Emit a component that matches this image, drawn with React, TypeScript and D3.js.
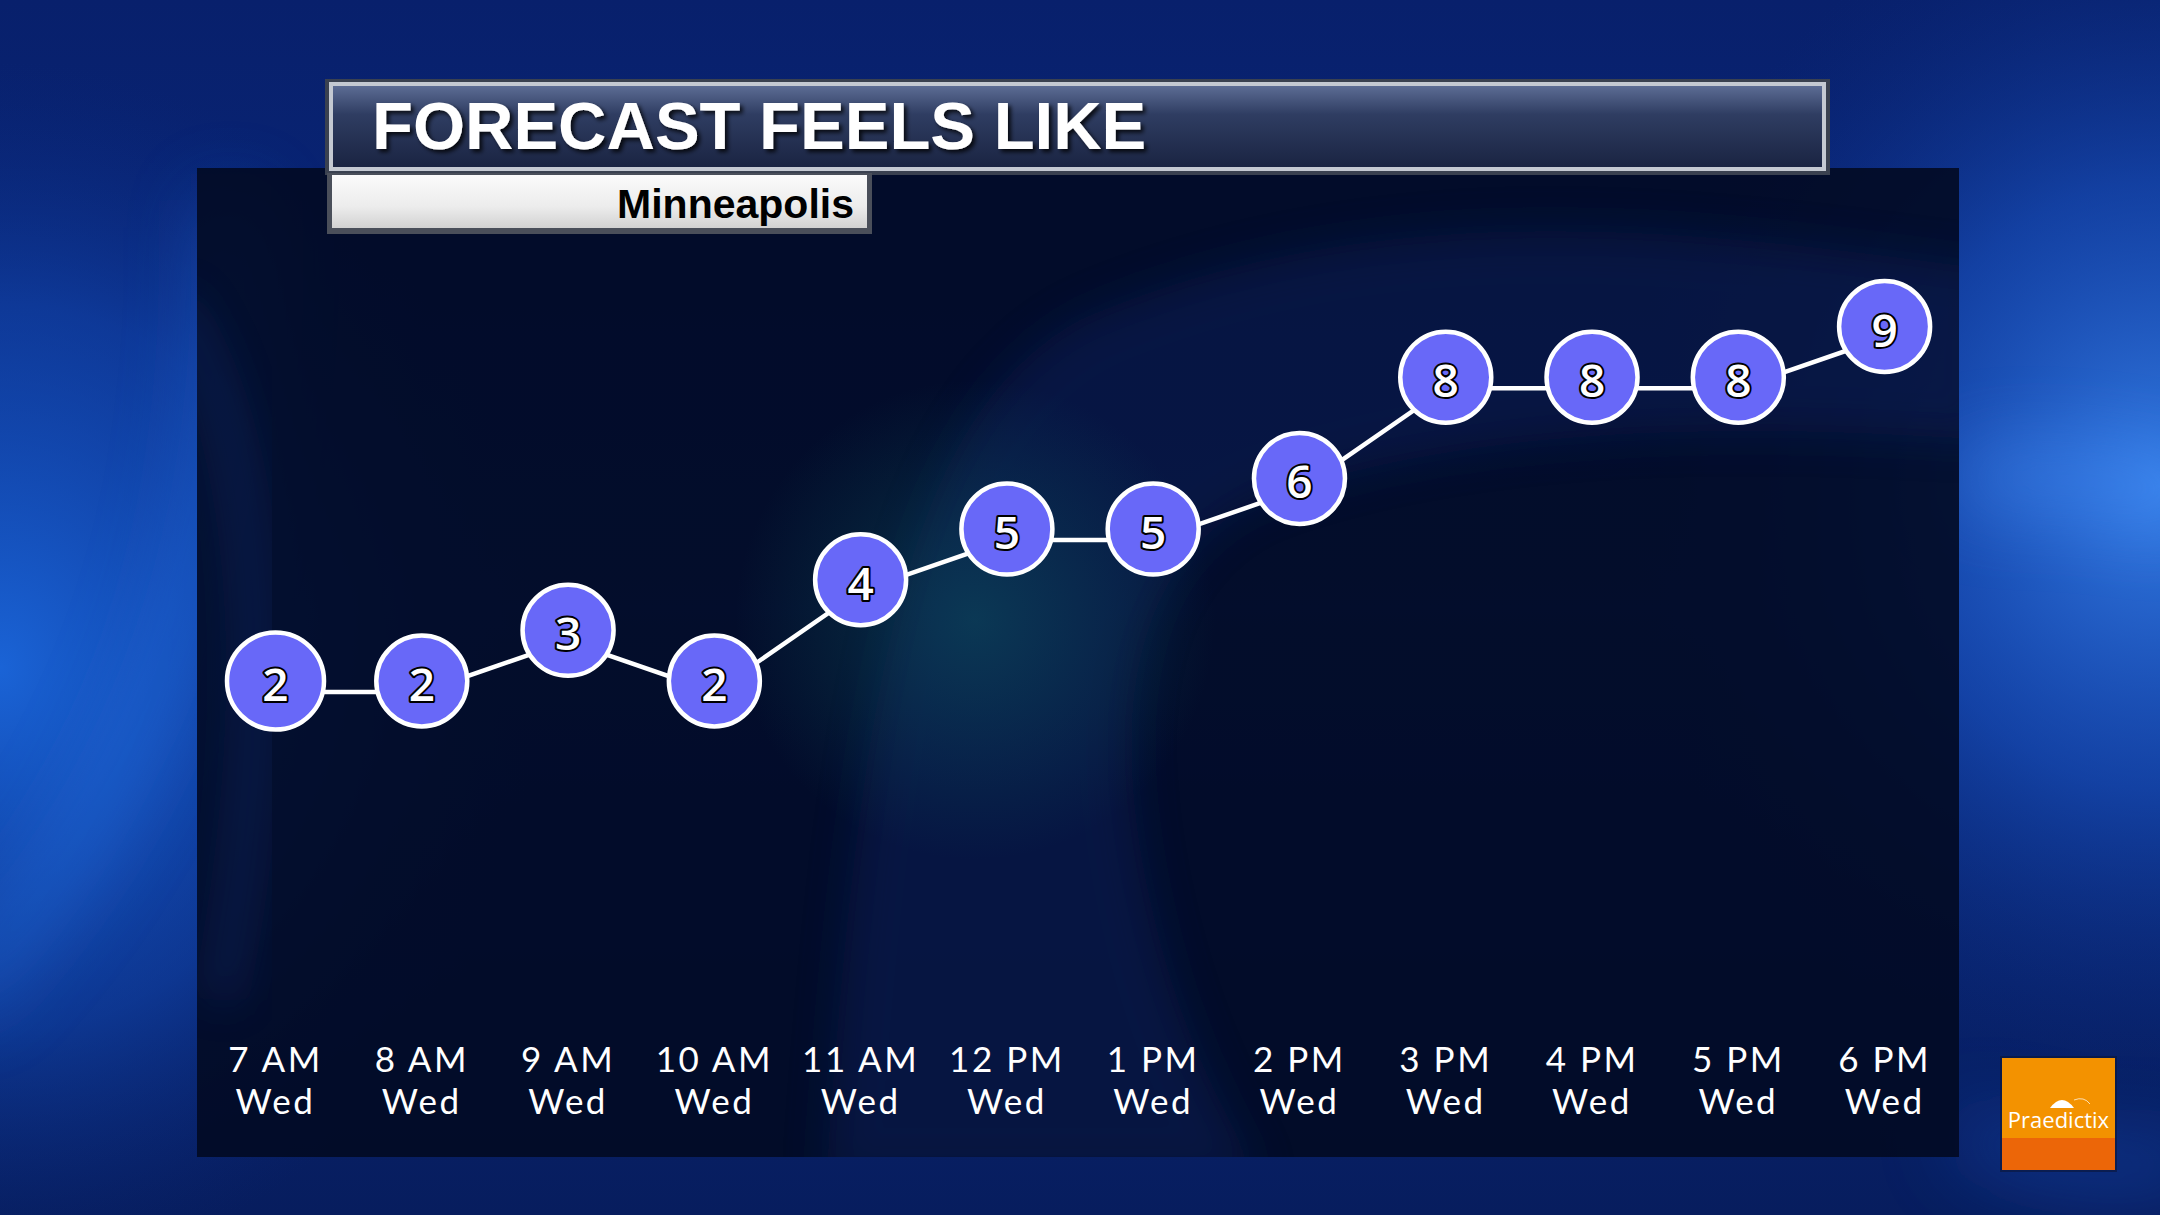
import React from "react";
import * as d3 from "d3";

const hours = ["7 AM", "8 AM", "9 AM", "10 AM", "11 AM", "12 PM", "1 PM", "2 PM", "3 PM", "4 PM", "5 PM", "6 PM"];
const days = ["Wed", "Wed", "Wed", "Wed", "Wed", "Wed", "Wed", "Wed", "Wed", "Wed", "Wed", "Wed"];
const feelsLike = [2, 2, 3, 2, 4, 5, 5, 6, 8, 8, 8, 9];
const titleText = "FORECAST FEELS LIKE";
const subtitleText = "Minneapolis";
const brandText = "Praedictix";

const W = 2160;
const H = 1215;

export default function App() {
  const x = d3.scalePoint<string>().domain(hours).range([275.5, 1884.6]).padding(0);
  const y = d3.scaleLinear().domain([2, 9]).range([681, 326.5]);
  const lineOffset = 11;
  const pts = feelsLike.map((v, i) => ({ v, h: hours[i], d: days[i], x: x(hours[i]) as number, y: y(v) }));
  const line = d3
    .line<{ x: number; y: number }>()
    .x((d) => d.x)
    .y((d) => d.y + lineOffset);

  return (
    <div style={{ position: "fixed", left: 0, top: 0, width: W, height: H, overflow: "hidden" }}>
      <svg width={W} height={H} viewBox={`0 0 ${W} ${H}`} style={{ display: "block" }}>
        <defs>
          <linearGradient id="bgBase" x1="0" y1="0" x2="0" y2="1">
            <stop offset="0" stopColor="#08206c" />
            <stop offset="0.5" stopColor="#0a2a80" />
            <stop offset="1" stopColor="#071d5e" />
          </linearGradient>
          <radialGradient id="leftGlow" cx="0" cy="0.55" r="0.5" gradientTransform="scale(0.5,1)">
            <stop offset="0" stopColor="#1c6ae0" stopOpacity="0.9" />
            <stop offset="0.6" stopColor="#1450c0" stopOpacity="0.45" />
            <stop offset="1" stopColor="#0a2a80" stopOpacity="0" />
          </radialGradient>
          <radialGradient id="rightGlow" cx="1" cy="0.4" r="0.5" gradientTransform="translate(0.5,0) scale(0.5,1)">
            <stop offset="0" stopColor="#3a86f0" stopOpacity="0.9" />
            <stop offset="0.5" stopColor="#1d5cd0" stopOpacity="0.5" />
            <stop offset="1" stopColor="#0a2a80" stopOpacity="0" />
          </radialGradient>
          <radialGradient id="tealGlow" cx="0.5" cy="0.5" r="0.5">
            <stop offset="0" stopColor="#0e5a66" stopOpacity="0.5" />
            <stop offset="1" stopColor="#0e5a66" stopOpacity="0" />
          </radialGradient>
          <linearGradient id="titleFill" x1="0" y1="0" x2="0" y2="1">
            <stop offset="0" stopColor="#5c6c94" />
            <stop offset="0.35" stopColor="#2f3d62" />
            <stop offset="1" stopColor="#1a2442" />
          </linearGradient>
          <linearGradient id="subFill" x1="0" y1="0" x2="0" y2="1">
            <stop offset="0" stopColor="#fbfbfb" />
            <stop offset="0.6" stopColor="#ececec" />
            <stop offset="1" stopColor="#d2d2d2" />
          </linearGradient>
          <filter id="shadow" x="-5%" y="-20%" width="110%" height="140%">
            <feDropShadow dx="3" dy="3" stdDeviation="2" floodColor="#000" floodOpacity="0.8" />
          </filter>
          <filter id="blur40" x="-50%" y="-50%" width="200%" height="200%">
            <feGaussianBlur stdDeviation="40" />
          </filter>
          <filter id="blur20" x="-20%" y="-20%" width="140%" height="140%">
            <feGaussianBlur stdDeviation="22" />
          </filter>
          <clipPath id="panelClip">
            <rect x={197} y={168} width={1762} height={989} />
          </clipPath>
        </defs>

        {/* background */}
        <rect x={0} y={0} width={W} height={H} fill="url(#bgBase)" />
        <rect x={0} y={0} width={W} height={H} fill="url(#leftGlow)" />
        <rect x={0} y={0} width={W} height={H} fill="url(#rightGlow)" />
        <g filter="url(#blur40)" opacity={0.55}>
          <path d="M -50 1000 Q 250 700 230 200" stroke="#2a7af0" strokeWidth={40} fill="none" />
          <path d="M 1960 480 Q 2080 470 2200 500" stroke="#4a94ff" strokeWidth={50} fill="none" />
          <path d="M 1960 1130 Q 2080 1180 2200 1160" stroke="#1e5ad0" strokeWidth={40} fill="none" />
        </g>

        {/* chart panel */}
        <rect x={197} y={168} width={1762} height={989} fill="#020a22" opacity={0.9} />
        <g clipPath="url(#panelClip)">
          <path
            d="M 826 1180 C 860 700 900 420 1080 320 C 1380 190 1700 230 1990 270 L 1990 440 C 1700 420 1450 430 1260 500 C 1130 560 1110 720 1150 900 C 1180 1040 1230 1120 1260 1180 Z"
            fill="#0d2260"
            opacity={0.45}
            filter="url(#blur20)"
          />
          <path
            d="M 170 300 C 260 420 280 700 220 1000"
            stroke="#12307a"
            strokeWidth={30}
            fill="none"
            opacity={0.4}
            filter="url(#blur20)"
          />
          <ellipse cx={975} cy={620} rx={240} ry={240} fill="url(#tealGlow)" />
        </g>

        {/* title box */}
        <rect x={325} y={79} width={1505} height={96} fill="#3a4150" />
        <rect x={329} y={82} width={1497} height={89} fill="#c4c9d2" />
        <rect x={333} y={86} width={1489} height={81} fill="url(#titleFill)" />
        <text
          x={372}
          y={149}
          fontFamily="'Liberation Sans', Arial, sans-serif"
          fontWeight="bold"
          fontSize={67}
          fill="#ffffff"
          filter="url(#shadow)"
        >
          {titleText}
        </text>

        {/* subtitle box */}
        <rect x={327} y={173} width={545} height={61} fill="#4a4f5a" />
        <rect x={332} y={175} width={535} height={53} fill="url(#subFill)" />
        <text
          x={854}
          y={218}
          textAnchor="end"
          fontFamily="'Liberation Sans', Arial, sans-serif"
          fontWeight="bold"
          fontSize={41}
          fill="#000000"
        >
          {subtitleText}
        </text>

        {/* line */}
        <path d={line(pts) || ""} fill="none" stroke="#ffffff" strokeWidth={4.5} />

        {/* points */}
        {pts.map((p, i) => (
          <g key={i}>
            <circle cx={p.x} cy={p.y} r={i === 0 ? 48.5 : 45.5} fill="#6868f8" stroke="#ffffff" strokeWidth={4.5} />
            <text
              x={p.x}
              y={p.y + 2}
              textAnchor="middle"
              dominantBaseline="central"
              fontFamily="'Open Sans', 'Noto Sans', sans-serif"
              fontWeight={600}
              fontSize={46}
              fill="#ffffff"
              stroke="#000000"
              strokeWidth={4}
              paintOrder="stroke"
              strokeLinejoin="round"
            >
              {p.v}
            </text>
          </g>
        ))}

        {/* x labels */}
        {pts.map((p, i) => (
          <g key={"l" + i} fontFamily="Lato, 'Open Sans', sans-serif" fontSize={35} fill="#ffffff" textAnchor="middle" letterSpacing={2.5}>
            <text x={p.x} y={1072}>{p.h}</text>
            <text x={p.x} y={1114}>{p.d}</text>
          </g>
        ))}

        {/* logo */}
        <g>
          <rect x={2000} y={1056} width={117} height={116} fill="#0a1638" opacity={0.6} />
          <rect x={2002} y={1058} width={113} height={80} fill="#f39200" />
          <rect x={2002} y={1138} width={113} height={32} fill="#ec6608" />
          <path d="M 2050 1108 Q 2062 1092 2074 1108 Z" fill="#ffffff" />
          <path d="M 2074 1100 Q 2084 1096 2090 1104" fill="none" stroke="#ffffff" strokeWidth={1} opacity={0.7} />
          <text
            x={2058.5}
            y={1128}
            textAnchor="middle"
            fontFamily="'Open Sans', 'Noto Sans', sans-serif"
            fontSize={22}
            fill="#ffffff"
          >
            {brandText}
          </text>
        </g>
      </svg>
    </div>
  );
}
